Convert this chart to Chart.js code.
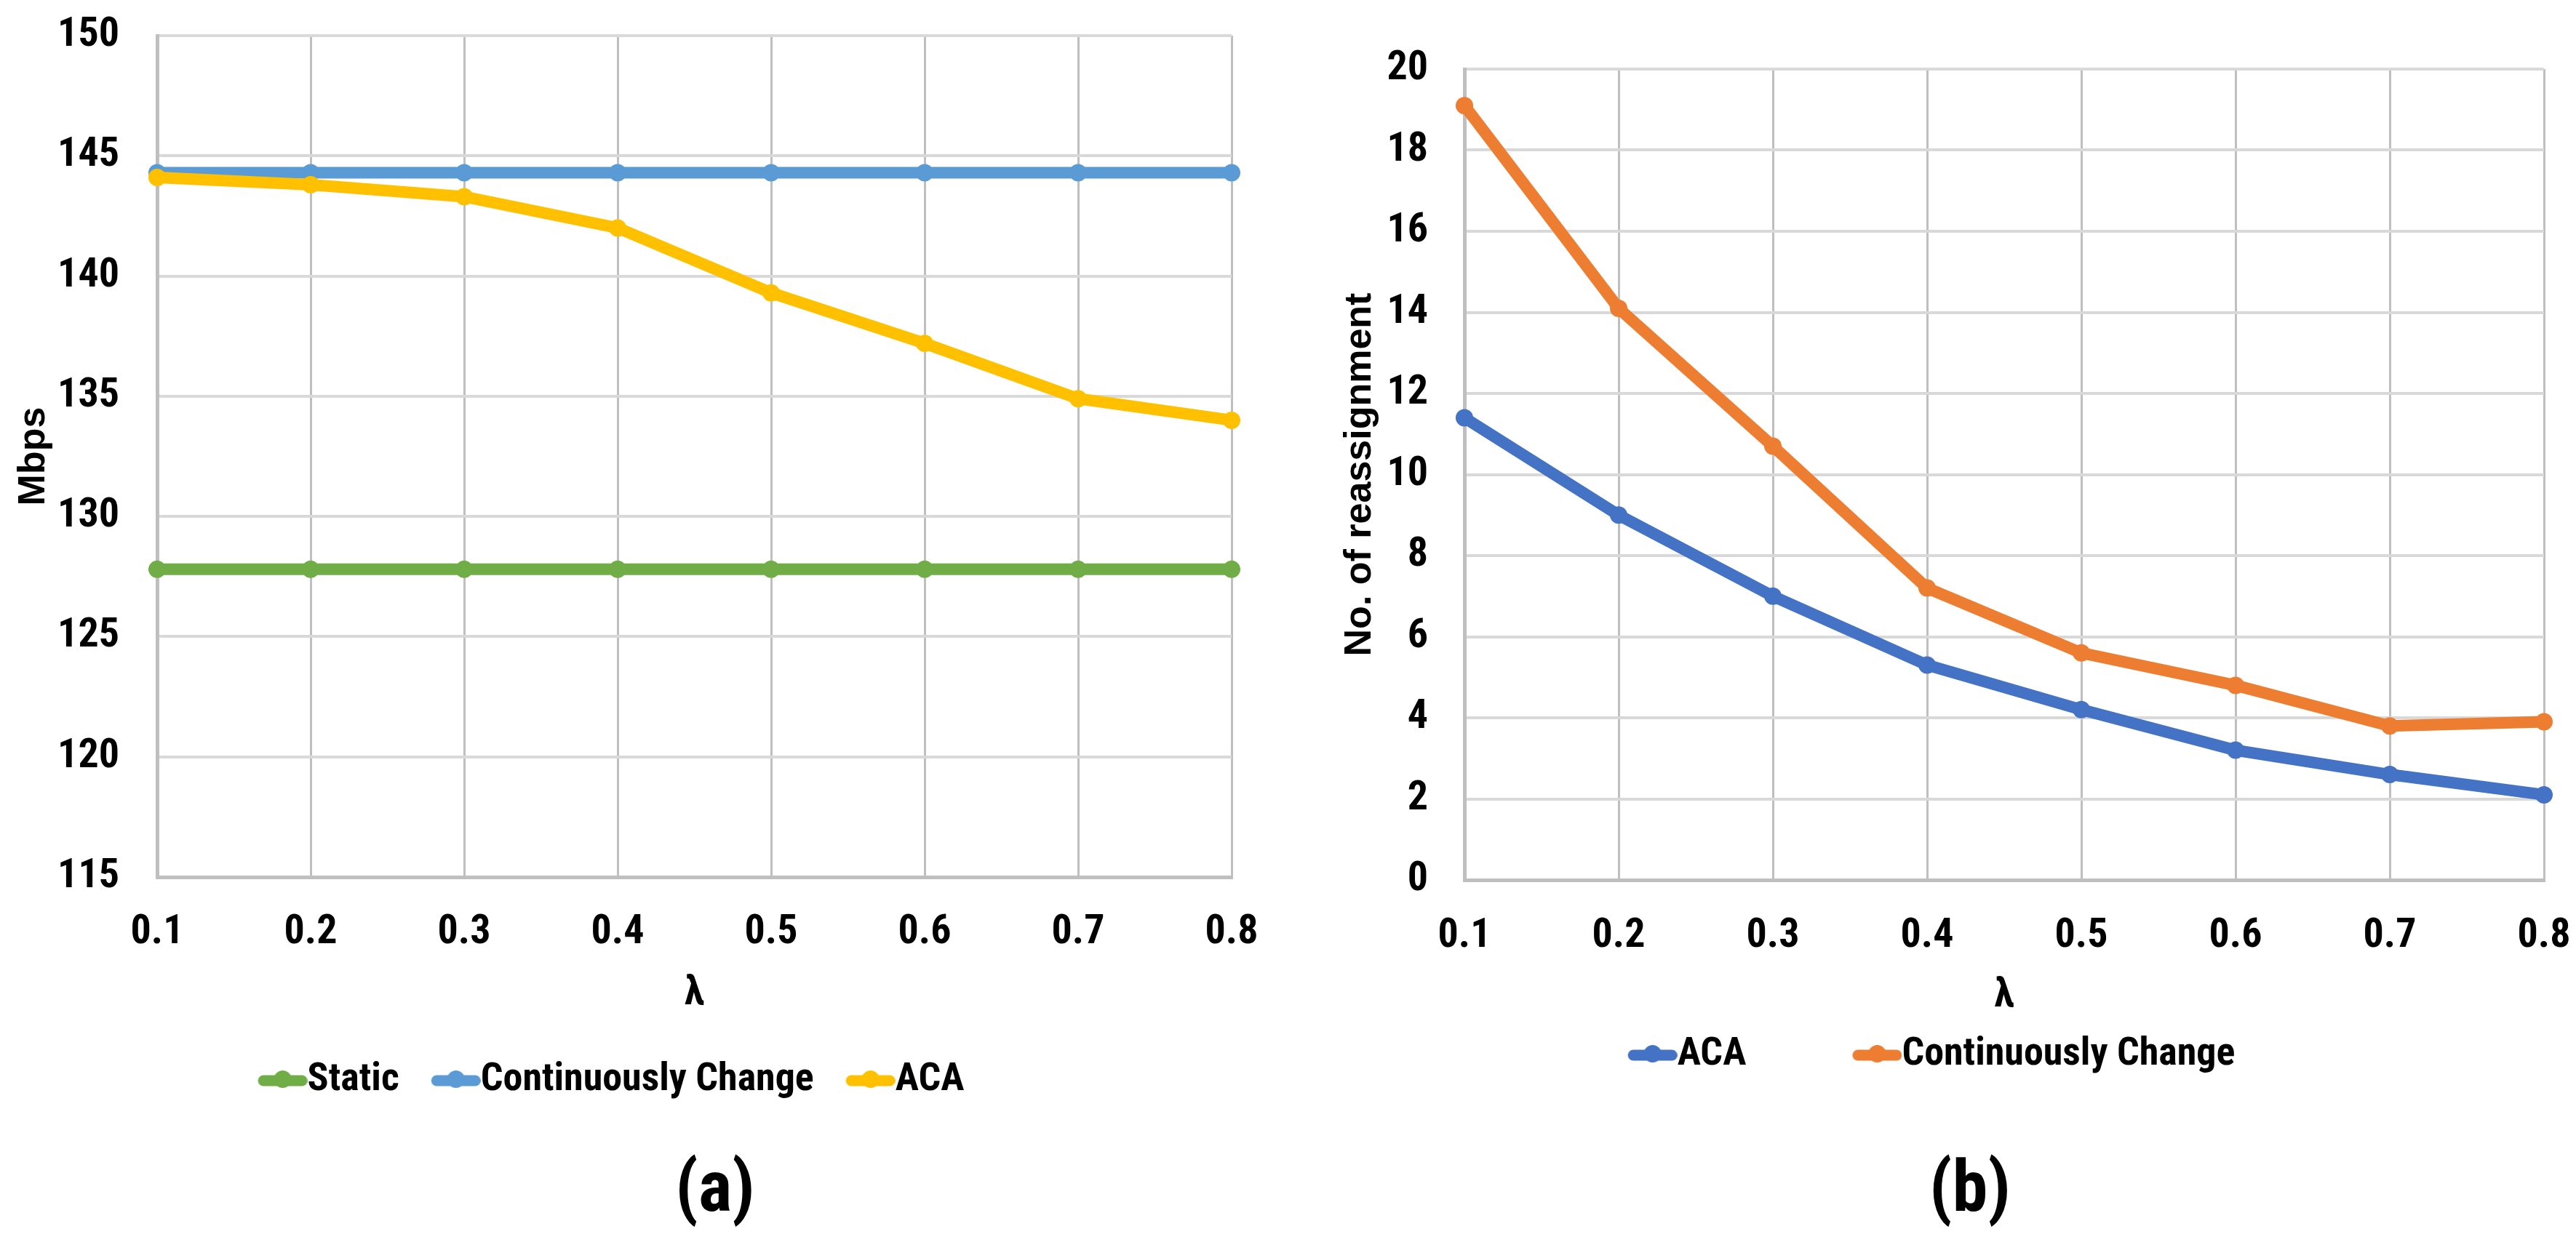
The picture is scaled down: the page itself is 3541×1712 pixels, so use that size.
<!DOCTYPE html>
<html>
<head>
<meta charset="utf-8">
<script src="https://cdn.jsdelivr.net/npm/chart.js@4.4.1/dist/chart.umd.min.js"></script>
<style>
  html, body { margin: 0; padding: 0; background: #ffffff; }
  body { width: 3541px; height: 1712px; position: relative; overflow: hidden; }
  .panel { position: absolute; top: 0; }
  .caption {
    position: absolute; top: 1582px; width: 300px; text-align: center;
    font-family: "Roboto Condensed", "Liberation Sans", sans-serif;
    font-weight: bold; font-size: 98px; line-height: 100px; color: #000;
  }
</style>
</head>
<body>
<div class="panel" style="left:0px;width:1760px;height:1712px"><canvas id="chartA" width="1760" height="1712"></canvas></div>
<div class="panel" style="left:1760px;width:1781px;height:1712px"><canvas id="chartB" width="1781" height="1712"></canvas></div>
<div class="caption" style="left:833px">(a)</div>
<div class="caption" style="left:2558px">(b)</div>

<script>
// values
var lambdaLabels = ["0.1", "0.2", "0.3", "0.4", "0.5", "0.6", "0.7", "0.8"];

// (a) throughput, Mbps
var staticA = [127.8, 127.8, 127.8, 127.8, 127.8, 127.8, 127.8, 127.8];
var continuousA = [144.3, 144.3, 144.3, 144.3, 144.3, 144.3, 144.3, 144.3];
var acaA = [144.1, 143.8, 143.3, 142.0, 139.3, 137.2, 134.9, 134.0];

// (b) number of reassignments
var acaB = [11.4, 9.0, 7.0, 5.3, 4.2, 3.2, 2.6, 2.1];
var continuousB = [19.1, 14.1, 10.7, 7.2, 5.6, 4.8, 3.8, 3.9];

// the picture uses a squeezed Calibri bold, pick the closest face that is installed
function hasFont(name) {
  var ctx = document.createElement("canvas").getContext("2d");
  var s = "mmmmmmmmmwwwlli0123456789";
  ctx.font = "bold 40px monospace";
  var w0 = ctx.measureText(s).width;
  ctx.font = 'bold 40px "' + name + '", monospace';
  return ctx.measureText(s).width !== w0;
}
var narrow = hasFont("Roboto Condensed")
  ? '"Roboto Condensed", sans-serif'
  : '"Liberation Sans", sans-serif';
// rotated titles look stretched in the picture, so a normal width face fits them
var titleFont = { family: '"Liberation Sans", sans-serif', size: 52, weight: "bold" };
var tickSize = 56;
var legendFont = 54;
var keyBox = 41;

// excel style legend key: short thick line with a dot on it
function legendKey(color) {
  var c = document.createElement("canvas");
  var lineLen = keyBox + legendFont / 2;
  var half = lineLen - keyBox / 2;
  c.width = Math.ceil(half * 2);
  c.height = 28;
  var ctx = c.getContext("2d");
  var x0 = c.width / 2 - keyBox / 2, x1 = c.width / 2 + half;
  ctx.strokeStyle = color;
  ctx.fillStyle = color;
  ctx.lineWidth = 15;
  ctx.lineCap = "round";
  ctx.beginPath();
  ctx.moveTo(x0 + 7.5, 15);
  ctx.lineTo(x1 - 7.5, 15);
  ctx.stroke();
  ctx.beginPath();
  ctx.arc((x0 + x1) / 2, 13, 12, 0, Math.PI * 2);
  ctx.fill();
  return c;
}

// move the legend row to a fixed spot below the axis title
var legendPlace = {
  id: "legendPlace",
  afterLayout: function (chart, args, opts) {
    var lg = chart.legend;
    if (!lg) return;
    var pad = chart.options.plugins.legend.labels.padding;
    var w = lg.width, h = legendFont + pad * 2 + 20;
    lg.left = opts.cx - w / 2;
    lg.right = lg.left + w;
    lg.top = opts.cy - pad - legendFont / 2;
    lg.height = h;
    lg.bottom = lg.top + h;
  },
};

function lineSet(label, data, color, order) {
  return {
    label: label,
    data: data,
    borderColor: color,
    backgroundColor: color,
    borderWidth: 16,
    pointRadius: 12,
    pointHoverRadius: 12,
    pointBorderWidth: 0,
    pointBackgroundColor: color,
    tension: 0,
    order: order,
  };
}

// label gaps are made with invisible tick marks, ticks.padding would eat into the plot
function buildOptions(cfg) {
  return {
    responsive: false,
    animation: false,
    devicePixelRatio: 1,
    layout: { padding: cfg.padding },
    plugins: {
      tooltip: { enabled: false },
      legendPlace: { cx: cfg.legendX, cy: cfg.legendY },
      legend: {
        display: true,
        position: "bottom",
        maxHeight: 1,
        labels: {
          usePointStyle: true,
          pointStyleWidth: keyBox,
          padding: cfg.legendGap,
          color: "#000000",
          font: { family: narrow, size: legendFont, weight: "bold" },
          sort: function (a, b) { return a.datasetIndex - b.datasetIndex; },
          generateLabels: function (chart) {
            var items = Chart.defaults.plugins.legend.labels.generateLabels(chart);
            items.forEach(function (it) {
              it.pointStyle = legendKey(chart.data.datasets[it.datasetIndex].borderColor);
            });
            return items;
          },
        },
      },
    },
    scales: {
      x: {
        type: "category",
        afterFit: function (s) { s.height = 220; },
        grid: {
          color: "#bfbfbf",
          lineWidth: 3,
          drawTicks: true,
          tickLength: cfg.xTickGap,
          tickColor: "rgba(0,0,0,0)",
        },
        border: { color: "#bfbfbf", width: 5 },
        ticks: {
          padding: 0,
          color: "#000000",
          maxRotation: 0,
          minRotation: 0,
          font: { family: narrow, size: tickSize, weight: "bold" },
        },
        title: {
          display: true,
          text: "λ",
          color: "#000000",
          padding: { top: 0, bottom: cfg.lambdaPad },
          font: { family: narrow, size: tickSize, weight: "bold" },
        },
      },
      y: {
        min: cfg.min,
        max: cfg.max,
        afterFit: function (s) { s.width = cfg.yWidth; },
        grid: {
          color: "#d9d9d9",
          lineWidth: 4,
          drawTicks: true,
          tickLength: cfg.yTickGap,
          tickColor: "rgba(0,0,0,0)",
        },
        border: { color: "#bfbfbf", width: 5 },
        ticks: {
          stepSize: cfg.step,
          padding: 0,
          color: "#000000",
          font: { family: narrow, size: tickSize, weight: "bold" },
        },
        title: {
          display: true,
          text: cfg.yTitle,
          color: "#000000",
          padding: { top: cfg.yTitlePad - titleFont.size * 0.6, bottom: 0 },
          font: titleFont,
        },
      },
    },
  };
}

// nudge layout padding until the plot area sits where it does in the picture
function pinArea(chart, box) {
  for (var k = 0; k < 4; k++) {
    var ca = chart.chartArea;
    var p = chart.options.layout.padding;
    var dt = ca.top - box.top, db = box.bottom - ca.bottom;
    var dl = ca.left - box.left, dr = box.right - ca.right;
    if (Math.abs(dt) + Math.abs(db) + Math.abs(dl) + Math.abs(dr) < 1) break;
    p.top -= dt;
    p.bottom -= db;
    p.left -= dl;
    p.right -= dr;
    chart.update();
  }
}

var chartA = new Chart(document.getElementById("chartA"), {
  type: "line",
  data: {
    labels: lambdaLabels,
    datasets: [
      lineSet("Static", staticA, "#70AD47", 3),
      lineSet("Continuously Change", continuousA, "#5B9BD5", 2),
      lineSet("ACA", acaA, "#FFC000", 1),
    ],
  },
  options: buildOptions({
    padding: { left: 0, top: 49, right: 67, bottom: 286 },
    yWidth: 216,
    min: 115,
    max: 150,
    step: 5,
    yTitle: "Mbps",
    yTitlePad: 47,
    yTickGap: 52,
    xTickGap: 43,
    lambdaPad: 25,
    legendGap: 44,
    legendX: 840,
    legendY: 1485,
  }),
  plugins: [legendPlace],
});
pinArea(chartA, { left: 216, top: 49, right: 1693, bottom: 1206 });

var chartB = new Chart(document.getElementById("chartB"), {
  type: "line",
  data: {
    labels: lambdaLabels,
    datasets: [
      lineSet("ACA", acaB, "#4472C4", 2),
      lineSet("Continuously Change", continuousB, "#ED7D31", 1),
    ],
  },
  options: buildOptions({
    padding: { left: 0, top: 95, right: 44, bottom: 282 },
    yWidth: 253,
    min: 0,
    max: 20,
    step: 2,
    yTitle: "No. of reassignment",
    yTitlePad: 110,
    yTickGap: 50,
    xTickGap: 44,
    lambdaPad: 26,
    legendGap: 146,
    legendX: 895,
    legendY: 1450,
  }),
  plugins: [legendPlace],
});
pinArea(chartB, { left: 253, top: 95, right: 1737, bottom: 1210 });
</script>
</body>
</html>
